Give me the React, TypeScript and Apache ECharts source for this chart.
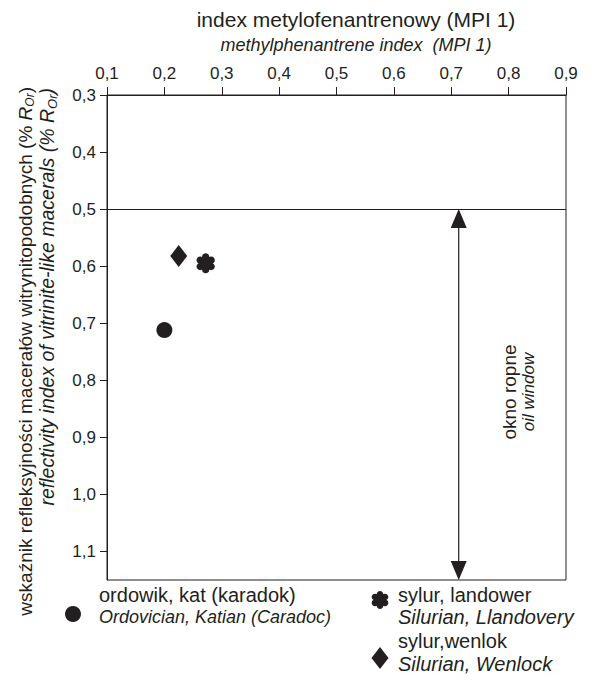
import React, { useEffect, useRef } from 'react';
import * as echarts from 'echarts';

// ---- data ----
const xTickValues = [0.1, 0.2, 0.3, 0.4, 0.5, 0.6, 0.7, 0.8, 0.9];
const yTickValues = [0.3, 0.4, 0.5, 0.6, 0.7, 0.8, 0.9, 1.0, 1.1];
const ordovicianKatian = [[0.2, 0.712]];
const silurianLlandovery = [[0.272, 0.595]];
const silurianWenlock = [[0.225, 0.582]];
const oilWindowLine = 0.5;
const oilWindowArrow = [[0.713, 0.5, 1.15]];

const INK = '#231f20';
const FONT = '"Liberation Sans", Arial, Helvetica, sans-serif';

function asteriskPath(): string {
  const R = 5.8, r = 3.3, w0 = 0.9, w1 = 2.9, c = 2.3, k = 0.5523;
  const f = (n: number) => n.toFixed(2);
  const circ = (cx: number, cy: number, rr: number) =>
    `M${f(cx + rr)},${f(cy)} C${f(cx + rr)},${f(cy + k * rr)} ${f(cx + k * rr)},${f(cy + rr)} ${f(cx)},${f(cy + rr)} ` +
    `C${f(cx - k * rr)},${f(cy + rr)} ${f(cx - rr)},${f(cy + k * rr)} ${f(cx - rr)},${f(cy)} ` +
    `C${f(cx - rr)},${f(cy - k * rr)} ${f(cx - k * rr)},${f(cy - rr)} ${f(cx)},${f(cy - rr)} ` +
    `C${f(cx + k * rr)},${f(cy - rr)} ${f(cx + rr)},${f(cy - k * rr)} ${f(cx + rr)},${f(cy)} Z `;
  let d = circ(0, 0, c);
  for (let i = 0; i < 6; i++) {
    const a = -Math.PI / 2 + (i * Math.PI) / 3;
    const ux = Math.cos(a), uy = Math.sin(a);
    const vx = -uy, vy = ux;
    d += `M${f(-w0 * vx)},${f(-w0 * vy)} L${f(-w1 * vx + R * ux)},${f(-w1 * vy + R * uy)} L${f(w1 * vx + R * ux)},${f(w1 * vy + R * uy)} L${f(w0 * vx)},${f(w0 * vy)} Z `;
    d += circ(R * ux, R * uy, r);
  }
  return d.trim();
}

const AST = asteriskPath();
let registered = false;
function ensureShapes() {
  if (registered) return;
  echarts.graphic.registerShape('asterisk', echarts.graphic.extendPath(AST, {}) as any);
  registered = true;
}

const comma = (v: number) => (Math.round(v * 10) / 10).toFixed(1).replace('.', ',');

export default function App() {
  const ref = useRef<HTMLDivElement>(null);
  useEffect(() => {
    if (!ref.current) return;
    ensureShapes();
    const chart = echarts.init(ref.current, undefined, { renderer: 'svg' });
    const txt = (text: string, x: number, y: number, size: number, extra: any = {}, elExtra: any = {}) => ({
      type: 'text',
      x,
      y,
      silent: true,
      ...elExtra,
      style: { text, fontSize: size, fontFamily: FONT, fill: INK, align: 'left', verticalAlign: 'middle', ...extra },
    });
    const subRich = (size: number, italic: boolean) => ({
      n: { fontSize: size, fontFamily: FONT, fill: INK, fontStyle: italic ? 'italic' : 'normal' },
      r: { fontSize: size, fontFamily: FONT, fill: INK, fontStyle: 'italic' },
      s: { fontSize: Math.round(size * 0.65), fontFamily: FONT, fill: INK, fontStyle: 'italic', verticalAlign: 'bottom', padding: [Math.round(size * 0.5), 0, 0, 0] },
    });
    chart.setOption({
      animation: false,
      backgroundColor: '#ffffff',
      grid: { left: 107, right: 34, top: 95, bottom: 103, show: true, borderColor: INK, borderWidth: 1, containLabel: false },
      xAxis: {
        type: 'value',
        position: 'top',
        min: 0.1,
        max: 0.9,
        interval: 0.1,
        axisLine: { show: true, lineStyle: { color: INK, width: 1 } },
        axisTick: { show: true, length: 8, lineStyle: { color: INK }, customValues: xTickValues },
        axisLabel: { color: INK, fontSize: 17, fontFamily: FONT, margin: 13, formatter: comma, customValues: xTickValues },
        splitLine: { show: false },
      },
      yAxis: {
        type: 'value',
        inverse: true,
        min: 0.3,
        max: 1.15,
        interval: 0.1,
        axisLine: { show: true, lineStyle: { color: INK, width: 1 } },
        axisTick: { show: true, length: 7, lineStyle: { color: INK }, customValues: yTickValues },
        axisLabel: { color: INK, fontSize: 17, fontFamily: FONT, margin: 11, formatter: comma, customValues: yTickValues },
        splitLine: { show: false },
      },
      series: [
        {
          type: 'scatter',
          name: 'ordowik',
          data: ordovicianKatian,
          symbol: 'circle',
          symbolSize: 16,
          itemStyle: { color: INK, opacity: 1 },
          markLine: {
            silent: true,
            symbol: ['none', 'none'],
            label: { show: false },
            lineStyle: { color: INK, width: 1, type: 'solid' },
            data: [{ yAxis: oilWindowLine }],
          },
        },
        {
          type: 'scatter',
          name: 'landower',
          data: silurianLlandovery,
          symbol: 'path://' + AST,
          symbolKeepAspect: true,
          symbolSize: 20,
          itemStyle: { color: INK, opacity: 1 },
        },
        {
          type: 'scatter',
          name: 'wenlok',
          data: silurianWenlock,
          symbol: 'diamond',
          symbolSize: [17, 22],
          itemStyle: { color: INK, opacity: 1 },
        },
        {
          type: 'custom',
          name: 'okno ropne',
          silent: true,
          clip: false,
          data: oilWindowArrow,
          encode: { x: 0, y: [1, 2] },
          renderItem: (params: any, api: any) => {
            const x = api.value(0);
            const p1 = api.coord([x, api.value(1)]);
            const p2 = api.coord([x, api.value(2)]);
            const hw = 8, h = 19;
            return {
              type: 'group',
              children: [
                { type: 'line', shape: { x1: p1[0], y1: p1[1] + h - 2, x2: p2[0], y2: p2[1] - h + 2 }, style: { stroke: INK, lineWidth: 1.2 } },
                { type: 'polygon', shape: { points: [[p1[0], p1[1]], [p1[0] - hw, p1[1] + h], [p1[0] + hw, p1[1] + h]] }, style: { fill: INK } },
                { type: 'polygon', shape: { points: [[p2[0], p2[1]], [p2[0] - hw, p2[1] - h], [p2[0] + hw, p2[1] - h]] }, style: { fill: INK } },
              ],
            };
          },
        },
      ],
      graphic: [
        txt('index metylofenantrenowy (MPI 1)', 356, 19, 21, { align: 'center' }),
        txt('methylphenantrene index  (MPI 1)', 356, 45, 18, { align: 'center', fontStyle: 'italic' }),
        {
          type: 'text',
          x: 25,
          y: 87,
          rotation: Math.PI / 2,
          silent: true,
          style: {
            text: '{n|wskaźnik refleksyjności macerałów witrynitopodobnych (% }{r|R}{s|Or}{n|)}',
            rich: subRich(19, false),
            align: 'right',
            verticalAlign: 'middle',
            fill: INK,
          },
        },
        {
          type: 'text',
          x: 47,
          y: 88,
          rotation: Math.PI / 2,
          silent: true,
          style: {
            text: '{n|reflectivity index of vitrinite-like macerals (% }{r|R}{s|Or}{n|)}',
            rich: subRich(19.5, true),
            align: 'right',
            verticalAlign: 'middle',
            fill: INK,
          },
        },
        txt('okno ropne', 509, 392, 19, { align: 'center' }, { rotation: Math.PI / 2 }),
        txt('oil window', 528, 392, 17, { align: 'center', fontStyle: 'italic' }, { rotation: Math.PI / 2 }),
        { type: 'circle', silent: true, shape: { cx: 73, cy: 614, r: 8 }, style: { fill: INK } },
        txt('ordowik, kat (karadok)', 99, 595, 20),
        txt('Ordovician, Katian (Caradoc)', 99, 617, 18, { fontStyle: 'italic' }),
        { type: 'asterisk', silent: true, x: 380, y: 600, scaleX: 1, scaleY: 1, style: { fill: INK } },
        txt('sylur, landower', 398, 595, 20),
        txt('Silurian, Llandovery', 398, 617, 20, { fontStyle: 'italic' }),
        { type: 'polygon', silent: true, shape: { points: [[380, 647], [388.5, 658], [380, 669], [371.5, 658]] }, style: { fill: INK } },
        txt('sylur,wenlok', 398, 641, 20),
        txt('Silurian, Wenlock', 398, 664, 20, { fontStyle: 'italic' }),
      ],
    });
    return () => chart.dispose();
  }, []);
  return <div ref={ref} style={{ position: 'absolute', left: 0, top: 0, width: 600, height: 683, background: '#fff' }} />;
}
